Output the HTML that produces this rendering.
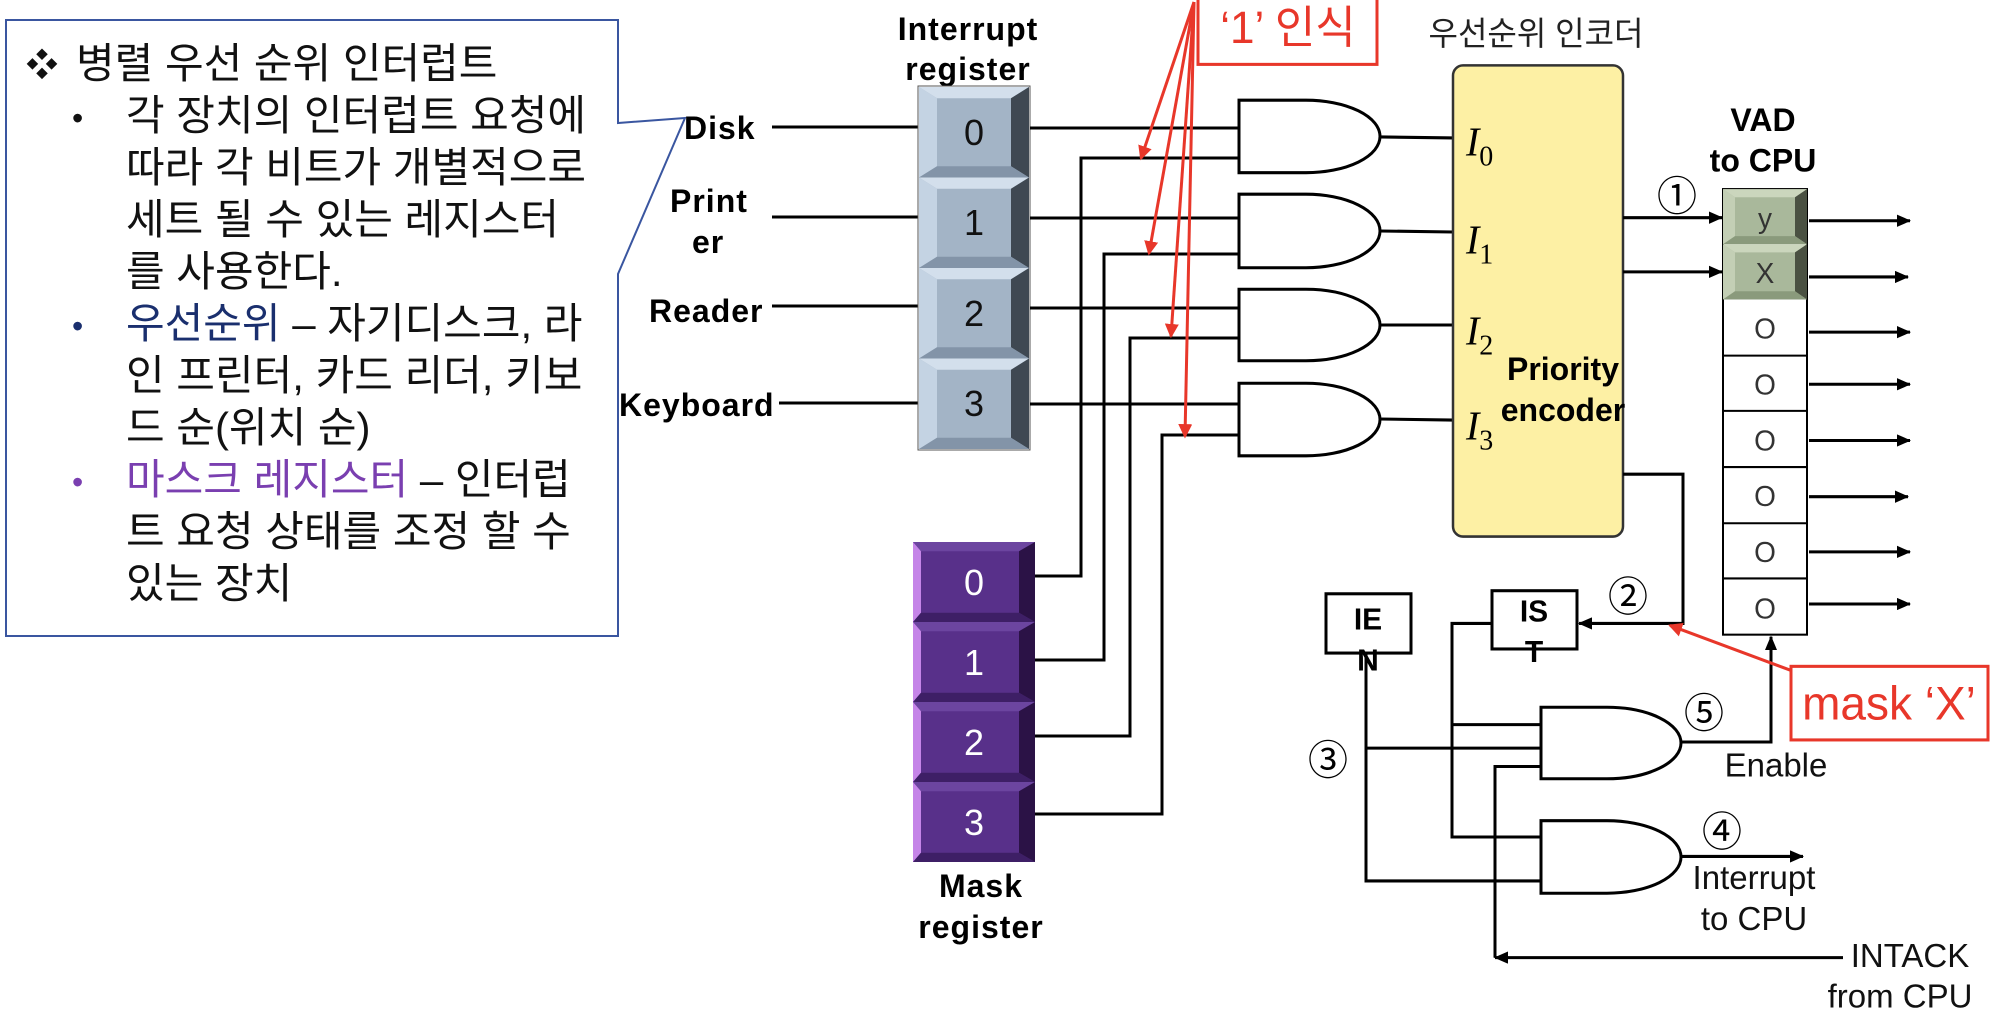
<!DOCTYPE html>
<html><head><meta charset="utf-8"><style>
html,body{margin:0;padding:0;background:#fff;}
svg{display:block;}
.k{font-family:"Liberation Sans","Noto Sans CJK KR",sans-serif;}
</style></head><body>
<svg width="1990" height="1020" viewBox="0 0 1990 1020" xmlns="http://www.w3.org/2000/svg">
<defs>
<symbol id="bc" viewBox="0 0 110 97" preserveAspectRatio="none">
<rect width="110" height="97" fill="#a3b4c6"/>
<polygon points="0,0 110,0 92,12 18,12" fill="#d3dfec"/>
<polygon points="0,0 18,12 18,85 0,97" fill="#c4d3e3"/>
<polygon points="110,0 110,97 92,85 92,12" fill="#3f4852"/>
<polygon points="0,97 110,97 92,85 18,85" fill="#8394a8"/>
</symbol>
<symbol id="pc" viewBox="0 0 122 86" preserveAspectRatio="none">
<rect width="122" height="86" fill="#58308a"/>
<polygon points="0,0 122,0 106,10 8,10" fill="#6c45a0"/>
<polygon points="0,0 8,10 8,76 0,86" fill="#c585e8"/>
<polygon points="122,0 122,86 106,76 106,10" fill="#2b1246"/>
<polygon points="0,86 122,86 106,76 8,76" fill="#3e1f66"/>
</symbol>
<symbol id="gc" viewBox="0 0 84 54" preserveAspectRatio="none">
<rect width="84" height="54" fill="#a9b89b"/>
<polygon points="0,0 84,0 72,8 12,8" fill="#cbd6bd"/>
<polygon points="0,0 12,8 12,46 0,54" fill="#c3cfb5"/>
<polygon points="84,0 84,54 72,46 72,8" fill="#4a5142"/>
<polygon points="0,54 84,54 72,46 12,46" fill="#8a9a7c"/>
</symbol>
<marker id="ab" markerWidth="14" markerHeight="12" refX="13" refY="6" orient="auto" markerUnits="userSpaceOnUse" viewBox="0 0 14 12"><path d="M0,0 L14,6 L0,12 z" fill="#000"/></marker>
<marker id="ar" markerWidth="14" markerHeight="14" refX="12" refY="7" orient="auto" markerUnits="userSpaceOnUse" viewBox="0 0 14 14"><path d="M0,0 L14,7 L0,14 z" fill="#e8372a"/></marker>
</defs>

<!-- text box with callout -->
<path d="M6,20 H618 V123 L685,118 L618,274 V636 H6 Z" fill="#fff" stroke="#3a56a0" stroke-width="2"/>
<g class="k" font-size="42" fill="#111">
<text x="26" y="76" font-size="32">❖</text>
<text x="76" y="78">병렬 우선 순위 인터럽트</text>
<text x="72" y="129" font-size="32">•</text>
<text x="126" y="130">각 장치의 인터럽트 요청에</text>
<text x="126" y="182">따라 각 비트가 개별적으로</text>
<text x="126" y="234">세트 될 수 있는 레지스터</text>
<text x="126" y="286">를 사용한다.</text>
<text x="72" y="337" font-size="32" fill="#1a2f6e">•</text>
<text x="126" y="338"><tspan fill="#1a2f6e">우선순위</tspan> – 자기디스크, 라</text>
<text x="126" y="390">인 프린터, 카드 리더, 키보</text>
<text x="126" y="442">드 순(위치 순)</text>
<text x="72" y="493" font-size="32" fill="#7a3fb0">•</text>
<text x="126" y="494"><tspan fill="#7a3fb0">마스크 레지스터</tspan> – 인터럽</text>
<text x="126" y="546">트 요청 상태를 조정 할 수</text>
<text x="126" y="598">있는 장치</text>
</g>

<g class="k" font-weight="bold" font-size="32" fill="#000" letter-spacing="1">
<text x="968" y="40" text-anchor="middle">Interrupt</text>
<text x="968" y="80" text-anchor="middle">register</text>
<text x="684" y="139">Disk</text>
<text x="670" y="212">Print</text>
<text x="692" y="253">er</text>
<text x="649" y="322">Reader</text>
<text x="619" y="416">Keyboard</text>
<text x="981" y="897" text-anchor="middle">Mask</text>
<text x="981" y="938" text-anchor="middle">register</text>
</g>

<g stroke="#000" stroke-width="3" fill="none">
<line x1="772" y1="127" x2="919" y2="127"/>
<line x1="772" y1="217" x2="919" y2="217"/>
<line x1="772" y1="306" x2="919" y2="306"/>
<line x1="779" y1="403" x2="919" y2="403"/>
</g>

<!-- interrupt register -->
<rect x="918" y="86" width="112" height="364" fill="#fff" stroke="#555" stroke-width="1"/>
<use href="#bc" x="919" y="87" width="110" height="90.5"/>
<use href="#bc" x="919" y="177.5" width="110" height="90.5"/>
<use href="#bc" x="919" y="268" width="110" height="90.5"/>
<use href="#bc" x="919" y="358.5" width="110" height="90.5"/>
<g class="k" font-size="36" fill="#111" text-anchor="middle">
<text x="974" y="145">0</text><text x="974" y="235">1</text><text x="974" y="326">2</text><text x="974" y="416">3</text>
</g>

<!-- mask register -->
<use href="#pc" x="913" y="542" width="122" height="80"/>
<use href="#pc" x="913" y="622" width="122" height="80"/>
<use href="#pc" x="913" y="702" width="122" height="80"/>
<use href="#pc" x="913" y="782" width="122" height="80"/>
<g class="k" font-size="36" fill="#fff" text-anchor="middle">
<text x="974" y="595">0</text><text x="974" y="675">1</text><text x="974" y="755">2</text><text x="974" y="835">3</text>
</g>

<!-- wiring from registers -->
<g stroke="#000" stroke-width="3" fill="none">
<polyline points="1030,128 1240,128"/>
<polyline points="1030,218 1240,218"/>
<polyline points="1030,308 1240,308"/>
<polyline points="1030,404 1240,404"/>
<polyline points="1035,576 1081,576 1081,158 1240,158"/>
<polyline points="1035,660 1104,660 1104,254 1240,254"/>
<polyline points="1035,736 1130,736 1130,338 1240,338"/>
<polyline points="1035,814 1162,814 1162,435 1240,435"/>
</g>

<g transform="scale(1,1.022)">
<g stroke="#000" stroke-width="3" fill="none">
<path d="M1239,98 H1306 A74,35.5 0 0 1 1306,169 H1239 Z" fill="#fff"/>
<path d="M1239,190 H1306 A74,36 0 0 1 1306,262 H1239 Z" fill="#fff"/>
<path d="M1239,283 H1306 A74,35 0 0 1 1306,353 H1239 Z" fill="#fff"/>
<path d="M1239,375 H1306 A74,35.5 0 0 1 1306,446 H1239 Z" fill="#fff"/>
<line x1="1380" y1="134" x2="1453" y2="135"/>
<line x1="1380" y1="226" x2="1453" y2="227"/>
<line x1="1380" y1="318" x2="1453" y2="318"/>
<line x1="1380" y1="410" x2="1453" y2="411"/>
</g>

<!-- encoder -->
<rect x="1453" y="64" width="170" height="461" rx="10" fill="#fdf0a4" stroke="#333" stroke-width="2.5"/>
<g font-family="Liberation Serif, serif" font-style="italic" font-size="40" fill="#000">
<text x="1466" y="152">I<tspan font-style="normal" font-size="28" dy="10">0</tspan></text>
<text x="1466" y="248">I<tspan font-style="normal" font-size="28" dy="10">1</tspan></text>
<text x="1466" y="337">I<tspan font-style="normal" font-size="28" dy="10">2</tspan></text>
<text x="1466" y="430">I<tspan font-style="normal" font-size="28" dy="10">3</tspan></text>
</g>
<g class="k" font-weight="bold" font-size="32" fill="#000" text-anchor="middle">
<text x="1563" y="372">Priority</text>
<text x="1563" y="412">encoder</text>
</g>
<text class="k" x="1536" y="44" font-size="32" text-anchor="middle" fill="#222">우선순위 인코더</text>

<!-- VAD -->
<g class="k" font-weight="bold" font-size="32" text-anchor="middle">
<text x="1763" y="128">VAD</text>
<text x="1763" y="168">to CPU</text>
</g>
<rect x="1723" y="185" width="84" height="436" fill="#fff" stroke="#000" stroke-width="2"/>
<use href="#gc" x="1723" y="185" width="84" height="54"/>
<use href="#gc" x="1723" y="239" width="84" height="54"/>
<g stroke="#000" stroke-width="2">
<line x1="1723" y1="348" x2="1807" y2="348"/><line x1="1723" y1="402" x2="1807" y2="402"/>
<line x1="1723" y1="457" x2="1807" y2="457"/><line x1="1723" y1="512" x2="1807" y2="512"/>
<line x1="1723" y1="566" x2="1807" y2="566"/>
</g>
<g class="k" font-size="28" fill="#333" text-anchor="middle">
<text x="1765" y="223">y</text><text x="1765" y="277">X</text>
<text x="1765" y="331">O</text><text x="1765" y="386">O</text><text x="1765" y="441">O</text>
<text x="1765" y="495">O</text><text x="1765" y="550">O</text><text x="1765" y="605">O</text>
</g>
<g stroke="#000" stroke-width="3" marker-end="url(#ab)">
<line x1="1623" y1="213" x2="1722" y2="213"/>
<line x1="1623" y1="266" x2="1722" y2="266"/>
<line x1="1809" y1="216" x2="1910" y2="216"/>
<line x1="1809" y1="271" x2="1908" y2="271"/>
<line x1="1809" y1="325" x2="1910" y2="325"/>
<line x1="1809" y1="376" x2="1910" y2="376"/>
<line x1="1809" y1="431" x2="1910" y2="431"/>
<line x1="1809" y1="486" x2="1908" y2="486"/>
<line x1="1809" y1="540" x2="1910" y2="540"/>
<line x1="1809" y1="591" x2="1910" y2="591"/>
</g>

<!-- control -->
<g stroke="#000" stroke-width="3" fill="none">
<polyline points="1623,464 1683,464 1683,610 1579,610" marker-end="url(#ab)"/>
<rect x="1326" y="581" width="85" height="58" fill="#fff"/>
<rect x="1492" y="578" width="85" height="57" fill="#fff"/>
<polyline points="1492,610 1452,610 1452,819 1541,819"/>
<polyline points="1452,709 1541,709"/>
<polyline points="1366,639 1366,862 1541,862"/>
<polyline points="1366,732 1541,732"/>
<polyline points="1843,937 1495,937" marker-end="url(#ab)"/>
<polyline points="1495,937 1495,750 1541,750"/>
<path d="M1541,692 H1607 A74,35 0 0 1 1607,762 H1541 Z" fill="#fff"/>
<path d="M1541,803 H1607 A74,35.5 0 0 1 1607,874 H1541 Z" fill="#fff"/>
<polyline points="1681,726 1771,726 1771,623" marker-end="url(#ab)"/>
<polyline points="1681,838 1803,838" marker-end="url(#ab)"/>
</g>
<g class="k" font-weight="bold" font-size="30" text-anchor="middle" fill="#000">
<text x="1368" y="616">IE</text><text x="1368" y="656">N</text>
<text x="1534" y="608">IS</text><text x="1534" y="648">T</text>
</g>
<g class="k" font-size="40" text-anchor="middle" fill="#000">
<text x="1677" y="206">①</text>
<text x="1628" y="598">②</text>
<text x="1328" y="758">③</text>
<text x="1722" y="828">④</text>
<text x="1704" y="712">⑤</text>
</g>
<g class="k" font-size="33" text-anchor="middle" fill="#111">
<text x="1776" y="760">Enable</text>
<text x="1754" y="870">Interrupt</text>
<text x="1754" y="910">to CPU</text>
<text x="1910" y="946">INTACK</text>
<text x="1900" y="986">from CPU</text>
</g>

<!-- red annotations -->
<rect x="1198" y="-4" width="179" height="67" fill="#fff" stroke="#e8372a" stroke-width="3"/>
<text class="k" x="1288" y="42" font-size="44" fill="#e8372a" text-anchor="middle">‘1’ 인식</text>
<g stroke="#e8372a" stroke-width="3" fill="none" marker-end="url(#ar)">
<line x1="1194" y1="2" x2="1141" y2="155"/>
<line x1="1194" y1="2" x2="1149" y2="248"/>
<line x1="1194" y1="2" x2="1171" y2="329"/>
<line x1="1194" y1="2" x2="1185" y2="427"/>
<line x1="1791" y1="656" x2="1670" y2="612"/>
</g>
<rect x="1791" y="652" width="197" height="72" fill="#fff" stroke="#e8372a" stroke-width="3"/>
<text class="k" x="1889" y="704" font-size="46" fill="#e8372a" text-anchor="middle">mask ‘X’</text>
</g>
</svg>
</body></html>
